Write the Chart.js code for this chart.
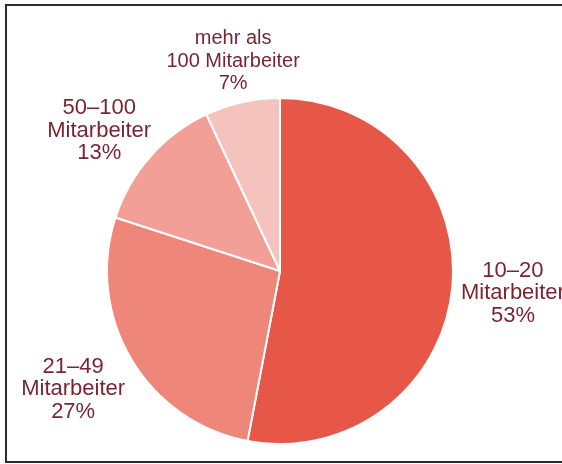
<!DOCTYPE html>
<html lang="de">
<head>
<meta charset="utf-8">
<title>Mitarbeiter</title>
<script src="https://cdn.jsdelivr.net/npm/chart.js@4"></script>
<style>
    html, body { margin: 0; padding: 0; background: #fff; }
    #wrap { position: relative; width: 562px; height: 464px; }
</style>
</head>
<body>
<div id="wrap"><canvas id="pie" width="562" height="464"></canvas></div>
<script>
// Daten
const categories = [
    ['10–20', 'Mitarbeiter'],
    ['21–49', 'Mitarbeiter'],
    ['50–100', 'Mitarbeiter'],
    ['mehr als', '100 Mitarbeiter']
];
const shares = [53, 27, 13, 7];

const sliceColors = ['#E65747', '#EE8679', '#F2A097', '#F5C3BE'];
// Abstand der Beschriftung vom Kreisrand + kleine Korrektur (x, y)
const labelGap = [61, 65, 56, 42];
const labelNudge = [[0, 0], [-2, -3], [-9, 11], [0, 0]];
const labelSize = [22, 22, 22, 20];

// Rahmen links, oben, unten (rechts offen)
const framePlugin = {
    id: 'frame',
    beforeDraw(chart) {
        const ctx = chart.ctx;
        ctx.save();
        ctx.fillStyle = '#2b2b2b';
        ctx.fillRect(5, 4, 557, 2);
        ctx.fillRect(5, 4, 2, 459);
        ctx.fillRect(5, 461, 557, 2);
        ctx.restore();
    }
};

// Beschriftung ausserhalb der Segmente
const outsideLabels = {
    id: 'outsideLabels',
    afterDraw(chart) {
        const ctx = chart.ctx;
        const arcs = chart.getDatasetMeta(0).data;
        ctx.save();
        ctx.fillStyle = '#7A2532';
        ctx.textAlign = 'center';
        ctx.textBaseline = 'middle';
        arcs.forEach(function(arc, i) {
            const p = arc.getProps(['x', 'y', 'startAngle', 'endAngle', 'outerRadius'], true);
            const mid = (p.startAngle + p.endAngle) / 2;
            const r = p.outerRadius + labelGap[i];
            const cx = p.x + Math.cos(mid) * r + labelNudge[i][0];
            const cy = p.y + Math.sin(mid) * r + labelNudge[i][1];
            const lines = categories[i].concat([shares[i] + '%']);
            const lh = 22.5;
            const top = cy - (lines.length - 1) * lh / 2;
            ctx.font = labelSize[i] + 'px "Liberation Sans", Arial, sans-serif';
            lines.forEach(function(t, k) {
                ctx.fillText(t, cx, top + k * lh);
            });
        });
        ctx.restore();
    }
};

new Chart(document.getElementById('pie').getContext('2d'), {
    type: 'pie',
    data: {
        labels: categories.map(c => c.join(' ')),
        datasets: [{
            data: shares,
            backgroundColor: sliceColors,
            borderColor: '#ffffff',
            borderWidth: 2
        }]
    },
    options: {
        responsive: false,
        animation: false,
        radius: 173,
        layout: { padding: { left: 50, right: 52, top: 88, bottom: 10 } },
        plugins: {
            legend: { display: false },
            tooltip: { enabled: false }
        }
    },
    plugins: [framePlugin, outsideLabels]
});
</script>
</body>
</html>
